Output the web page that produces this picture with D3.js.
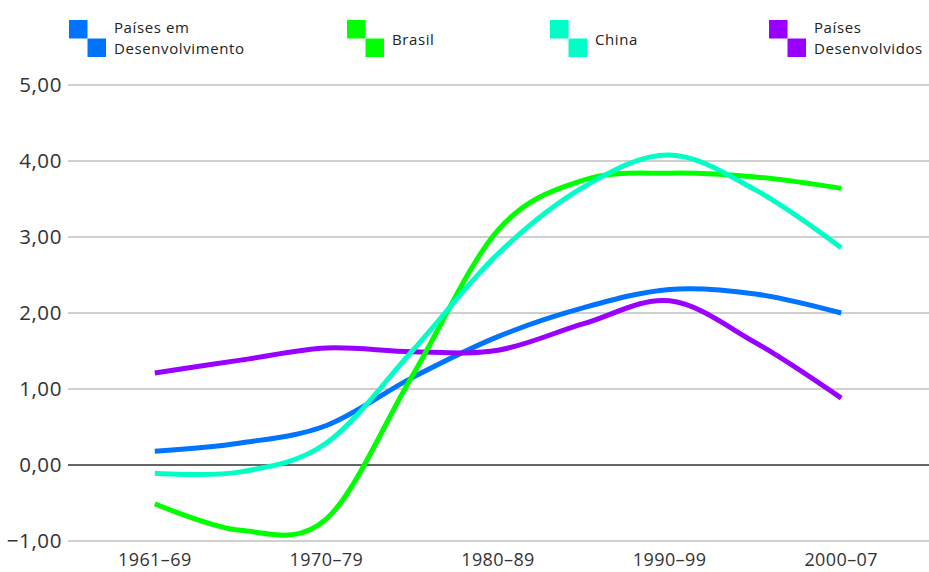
<!DOCTYPE html>
<html><head><meta charset="utf-8">
<script src="https://cdn.jsdelivr.net/npm/d3@7"></script>
<style>
html,body{margin:0;padding:0;background:#fff;}
svg{display:block;font-family:"Open Sans",sans-serif;}
</style></head>
<body><svg id="c" width="929" height="572"></svg>
<script>
const categories = ["1961-69","1970-79","1980-89","1990-99","2000-07"];
const positions = [0,0.5,1,1.5,2,2.5,3,3.5,4];
const seriesNames = ["Países em Desenvolvimento","Brasil","China","Países Desenvolvidos"];
const emDesenvolvimento = [0.18,0.29,0.52,1.15,1.69,2.07,2.31,2.25,2.00];
const brasil = [-0.51,-0.86,-0.71,1.17,3.09,3.75,3.84,3.79,3.64];
const china = [-0.11,-0.09,0.29,1.50,2.78,3.66,4.08,3.62,2.86];
const desenvolvidos = [1.21,1.38,1.54,1.49,1.51,1.86,2.16,1.61,0.88];
const yTicks = [-1,0,1,2,3,4,5];
const colors = ["#0074ff","#00ff00","#00ffc6","#9900ff"];

const svg = d3.select("#c");
const x = d3.scaleLinear().domain([-0.5,4.5]).range([69,927]);
const y = d3.scaleLinear().domain([-1,5]).range([541,85]);

// grid
svg.append("g").selectAll("line").data(yTicks).join("line")
  .attr("x1",68).attr("x2",929)
  .attr("y1",d=>y(d)).attr("y2",d=>y(d))
  .attr("stroke",d=>d===0?"#666":"#cfcfcf").attr("stroke-width",1.2)
  .attr("shape-rendering","crispEdges");

const fmt = d=>d3.format(".2f")(d).replace(".",",").replace("-","\u2013");
svg.append("g").selectAll("text").data(yTicks).join("text")
  .attr("x",62).attr("y",d=>y(d)).attr("dy","0.36em")
  .attr("text-anchor","end").attr("font-size",20.5).attr("letter-spacing",0.6).attr("fill","#333")
  .text(fmt);

svg.append("g").selectAll("text").data(categories).join("text")
  .attr("x",(d,i)=>x(i)).attr("y",566)
  .attr("text-anchor","middle").attr("font-size",18).attr("letter-spacing",0.4).attr("fill","#333")
  .text(d=>d.replace("-","\u2013"));

const all = [emDesenvolvimento,brasil,china,desenvolvidos];
const line = d3.line().x((d,i)=>x(positions[i])).y(d=>y(d)).curve(d3.curveCatmullRom.alpha(0));
const order = [0,3,1,2];
svg.append("g").selectAll("path").data(order).join("path")
  .attr("d",k=>line(all[k])).attr("fill","none")
  .attr("stroke",k=>colors[k]).attr("stroke-width",5);

// legend
const legendPos = [{x:69,lines:["Países em","Desenvolvimento"]},{x:347,lines:["Brasil"]},{x:550,lines:["China"]},{x:769,lines:["Países","Desenvolvidos"]}];
const lg = svg.append("g").selectAll("g").data(legendPos).join("g")
  .attr("transform",d=>`translate(${d.x},20)`);
lg.append("rect").attr("x",0).attr("y",0).attr("width",18.5).attr("height",18.5).attr("fill",(d,i)=>colors[i]);
lg.append("rect").attr("x",18.5).attr("y",18.5).attr("width",18.5).attr("height",18.5).attr("fill",(d,i)=>colors[i]);
lg.each(function(d){
  const n = d.lines.length;
  d.lines.forEach((s,j)=>{
    d3.select(this).append("text")
      .attr("font-size",15).attr("letter-spacing",0.6).attr("fill","#222")
      .attr("x",45).attr("y", n===1 ? 25 : 13 + j*20.5).text(s);
  });
});
</script></body></html>
